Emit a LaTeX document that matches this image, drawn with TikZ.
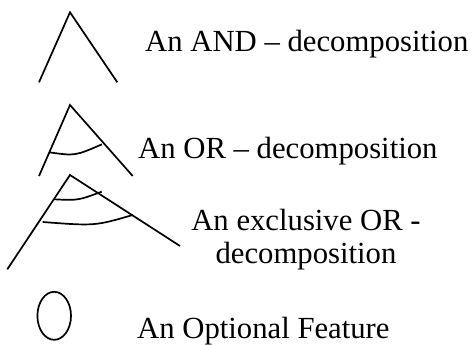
\documentclass[tikz,border=0pt]{standalone}
\usepackage{fontspec}
\setmainfont{Liberation Serif}
\tikzset{
  stroke/.style={line width=1.7pt, line cap=butt, line join=miter},
  label/.style={inner sep=0pt, anchor=base west, font=\fontsize{30.7}{33}\selectfont},
  clabel/.style={inner sep=0pt, anchor=base, font=\fontsize{30.7}{33}\selectfont}
}
\begin{document}
\begin{tikzpicture}[x=1pt,y=-1pt]
\useasboundingbox (0,0) rectangle (472,345);
% AND
\draw[stroke] (39,82.3) -- (70,12.3) -- (117.3,82.3);
\node[label] (andtxt) at (145,51.5) {An AND -- decomposition};
% OR
\draw[stroke] (39,176) -- (70,105) -- (132.7,176);
\draw[stroke] (49.3,152.3) .. controls (75,156) .. (102,144.3);
\node[label] (ortxt) at (138,158) {An OR -- decomposition};
% XOR
\draw[stroke] (7.3,269.3) -- (70,175) -- (180,246);
\draw[stroke] (54,199.3) .. controls (78,200.5) .. (101.7,191.7);
\draw[stroke] (42.7,222) .. controls (95,226) .. (132.7,215);
\node[clabel] (xor1) at (306,230) {An exclusive OR -};
\node[clabel] (xor2) at (306,263) {decomposition};
% optional
\draw[stroke] (54.2,315.8) ellipse [x radius=16.8, y radius=24];
\node[label] (opttxt) at (137,338) {An Optional Feature};
\end{tikzpicture}
\end{document}
